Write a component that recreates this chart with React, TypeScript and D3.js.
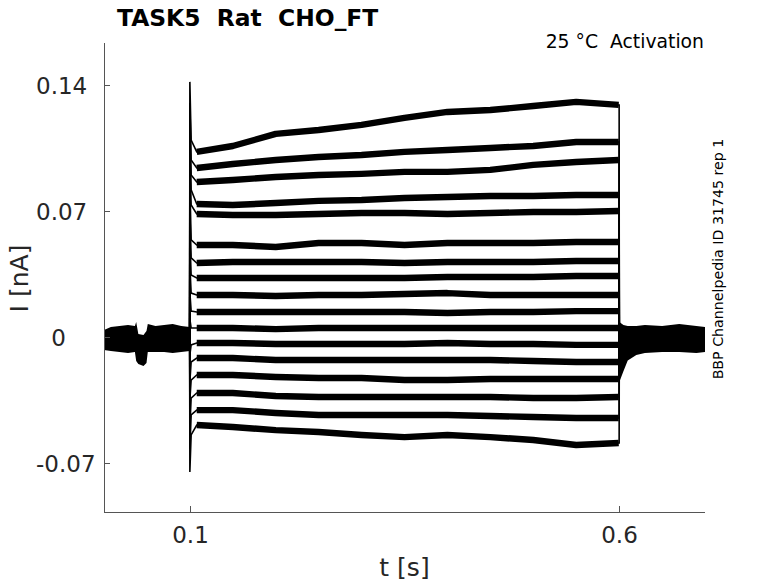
import React from "react";
import * as d3 from "d3";

// ---- data ----
const STEP_ON = 0.1;
const STEP_OFF = 0.6;

// sample times during the voltage step (s)
const stepTimes = [0.1015, 0.108, 0.15, 0.2, 0.25, 0.3, 0.35, 0.4, 0.45, 0.5, 0.55, 0.5995];

// current (nA) of the 17 sweeps at the sample times
const sweep1 = [0.1094, 0.1028, 0.1061, 0.1128, 0.115, 0.1178, 0.1217, 0.125, 0.1261, 0.1283, 0.1306, 0.1289];
const sweep2 = [0.0983, 0.0939, 0.0961, 0.0983, 0.1, 0.1011, 0.1028, 0.1039, 0.105, 0.1061, 0.1083, 0.1083];
const sweep3 = [0.09, 0.0861, 0.0872, 0.0889, 0.09, 0.0906, 0.0917, 0.0917, 0.0928, 0.0956, 0.0972, 0.0983];
const sweep4 = [0.0817, 0.0739, 0.0733, 0.0744, 0.0756, 0.0761, 0.0772, 0.0778, 0.0783, 0.0783, 0.0789, 0.0789];
const sweep5 = [0.0733, 0.0683, 0.0678, 0.0678, 0.0683, 0.0689, 0.0689, 0.0683, 0.0689, 0.0694, 0.0694, 0.07];
const sweep6 = [0.0539, 0.0511, 0.0511, 0.05, 0.0522, 0.0522, 0.0511, 0.0522, 0.0522, 0.0522, 0.0528, 0.0528];
const sweep7 = [0.0439, 0.0411, 0.0417, 0.0417, 0.0417, 0.0417, 0.0411, 0.0417, 0.0417, 0.0417, 0.0422, 0.0422];
const sweep8 = [0.0344, 0.0328, 0.0328, 0.0328, 0.0328, 0.0328, 0.0328, 0.0333, 0.0333, 0.0333, 0.0339, 0.0339];
const sweep9 = [0.0244, 0.0233, 0.0233, 0.0228, 0.0233, 0.0233, 0.0239, 0.0244, 0.0233, 0.0233, 0.0233, 0.0233];
const sweep10 = [0.0144, 0.0139, 0.0139, 0.0139, 0.0139, 0.0139, 0.0139, 0.0133, 0.0139, 0.0139, 0.0144, 0.0144];
const sweep11 = [0.005, 0.005, 0.005, 0.0044, 0.005, 0.005, 0.005, 0.005, 0.005, 0.005, 0.005, 0.005];
const sweep12 = [-0.0044, -0.0033, -0.0033, -0.0039, -0.0039, -0.0039, -0.0039, -0.0033, -0.0039, -0.0039, -0.0044, -0.0044];
const sweep13 = [-0.0139, -0.0117, -0.0117, -0.0128, -0.0128, -0.0128, -0.0128, -0.0128, -0.0128, -0.0133, -0.0139, -0.0139];
const sweep14 = [-0.0239, -0.0211, -0.0211, -0.0222, -0.0228, -0.0228, -0.0239, -0.0239, -0.0233, -0.0233, -0.0233, -0.0233];
const sweep15 = [-0.0339, -0.0311, -0.0311, -0.0328, -0.0333, -0.0333, -0.0333, -0.0333, -0.0333, -0.0339, -0.0339, -0.0333];
const sweep16 = [-0.0433, -0.0406, -0.0406, -0.0422, -0.0433, -0.0433, -0.0433, -0.0433, -0.0439, -0.0444, -0.045, -0.045];
const sweep17 = [-0.0544, -0.0489, -0.05, -0.0517, -0.0528, -0.0544, -0.0556, -0.0544, -0.0556, -0.0572, -0.06, -0.0589];

const sweeps = [
  sweep1, sweep2, sweep3, sweep4, sweep5, sweep6, sweep7, sweep8, sweep9,
  sweep10, sweep11, sweep12, sweep13, sweep14, sweep15, sweep16, sweep17,
];

// capacitive transient peak at step onset (nA)
const onsetPeaks = [0.1417, 0.13, 0.12, 0.11, 0.1, 0.085, 0.07, 0.055, 0.04, 0.025, 0.01, -0.01, -0.025, -0.035, -0.05, -0.062, -0.075];
// current right after step end (nA)
const tailStarts = [-0.022, -0.02, -0.018, -0.016, -0.014, -0.012, -0.01, -0.008, -0.006, -0.004, -0.002, 0, 0.002, 0.003, 0.004, 0.005, 0.006];
const TAIL_END_TIME = 0.612;
const BASELINE_LEVEL = -0.0012;

// holding-current noise band before / after the step: [t, upper, lower] (nA)
const baselinePre: [number, number, number][] = [
  [0.0, 0.0039, -0.0072],
  [0.008, 0.0056, -0.0078],
  [0.018, 0.0061, -0.0083],
  [0.028, 0.0067, -0.0089],
  [0.036, 0.0061, -0.0083],
  [0.0375, 0.0083, -0.0133],
  [0.04, 0.0017, -0.015],
  [0.046, 0.0011, -0.0161],
  [0.0495, 0.0033, -0.0144],
  [0.051, 0.0072, -0.0083],
  [0.06, 0.0061, -0.0083],
  [0.07, 0.0067, -0.0083],
  [0.08, 0.0072, -0.0089],
  [0.09, 0.0061, -0.0083],
  [0.0998, 0.0056, -0.0078],
];
const baselinePost: [number, number, number][] = [
  [0.6002, 0.0083, -0.025],
  [0.605, 0.0067, -0.019],
  [0.61, 0.0061, -0.013],
  [0.62, 0.0061, -0.01],
  [0.63, 0.0067, -0.0089],
  [0.65, 0.0061, -0.0083],
  [0.67, 0.0072, -0.0083],
  [0.69, 0.0061, -0.0089],
  [0.7, 0.0056, -0.0083],
];

const xTicks = [0.1, 0.6];
const xTickLabels = ["0.1", "0.6"];
const yTicks = [-0.07, 0, 0.07, 0.14];
const yTickLabels = ["-0.07", "0", "0.07", "0.14"];

const TITLE = "TASK5  Rat  CHO_FT";
const SUBTITLE = "25 °C  Activation";
const SIDE_NOTE = "BBP Channelpedia ID 31745 rep 1";
const X_LABEL = "t [s]";
const Y_LABEL = "I [nA]";

// ---- layout ----
const W = 778;
const H = 583;
const PLOT = { left: 104, right: 705, top: 43, bottom: 512 };
const FONT = "'DejaVu Sans', sans-serif";
const AXIS_COLOR = "#555555";
const TEXT_COLOR = "#262626";

export default function App() {
  const x = d3.scaleLinear().domain([0, 0.7]).range([PLOT.left, PLOT.right]);
  const y = d3.scaleLinear().domain([-0.0972, 0.1633]).range([PLOT.bottom, PLOT.top]);

  const line = d3
    .line<[number, number]>()
    .x((d) => x(d[0]))
    .y((d) => y(d[1]));

  const band = d3
    .area<[number, number, number]>()
    .x((d) => x(d[0]))
    .y0((d) => y(d[2]))
    .y1((d) => y(d[1]));

  const thinPaths = sweeps.map((vals, i) => {
    const pts: [number, number][] = [
      [STEP_ON - 0.0002, BASELINE_LEVEL],
      [STEP_ON, onsetPeaks[i]],
      ...stepTimes.map((t, k) => [t, vals[k]] as [number, number]),
      [STEP_OFF, vals[vals.length - 1]],
      [STEP_OFF + 0.0002, tailStarts[i]],
      [TAIL_END_TIME, BASELINE_LEVEL],
    ];
    return line(pts) as string;
  });

  const thickPaths = sweeps.map((vals) =>
    line(stepTimes.slice(1).map((t, k) => [t, vals[k + 1]] as [number, number])) as string
  );

  const midX = (PLOT.left + PLOT.right) / 2;
  const midY = (PLOT.top + PLOT.bottom) / 2;

  return (
    <div style={{ position: "absolute", left: 0, top: 0, width: W, height: H, background: "#fff" }}>
      <svg width={W} height={H} viewBox={`0 0 ${W} ${H}`} style={{ display: "block" }}>
        <rect x={0} y={0} width={W} height={H} fill="#fff" />

        {/* baseline noise bands */}
        <path d={band(baselinePre) as string} fill="#000" />
        <path d={band(baselinePost) as string} fill="#000" />

        {/* sweeps */}
        {thickPaths.map((d, i) => (
          <path key={"k" + i} d={d} fill="none" stroke="#000" strokeWidth={6.4} strokeLinejoin="round" />
        ))}
        {thinPaths.map((d, i) => (
          <path key={"t" + i} d={d} fill="none" stroke="#000" strokeWidth={1.6} strokeLinejoin="miter" />
        ))}

        {/* axes */}
        <line x1={PLOT.left + 0.5} x2={PLOT.left + 0.5} y1={PLOT.top} y2={PLOT.bottom + 0.5} stroke={AXIS_COLOR} strokeWidth={1} />
        <line x1={PLOT.left} x2={PLOT.right} y1={PLOT.bottom + 0.5} y2={PLOT.bottom + 0.5} stroke={AXIS_COLOR} strokeWidth={1} />
        {yTicks.map((v, i) => {
          const yy = Math.round(y(v)) + 0.5;
          const lab = yTickLabels[i];
          return (
            <g key={"yt" + i}>
              <line x1={PLOT.left} x2={PLOT.left + 6} y1={yy} y2={yy} stroke={AXIS_COLOR} strokeWidth={1} />
              <text
                x={lab === "0" ? 58.5 : 36}
                y={yy + 8}
                textAnchor={lab === "0" ? "middle" : "start"}
                fontFamily={FONT}
                fontSize={23}
                fill={TEXT_COLOR}
              >
                {lab}
              </text>
            </g>
          );
        })}
        {xTicks.map((v, i) => {
          const xx = Math.round(x(v)) + 0.5;
          return (
            <g key={"xt" + i}>
              <line x1={xx} x2={xx} y1={PLOT.bottom} y2={PLOT.bottom - 6} stroke={AXIS_COLOR} strokeWidth={1} />
              <text x={xx} y={543} textAnchor="middle" fontFamily={FONT} fontSize={23} fill={TEXT_COLOR}>
                {xTickLabels[i]}
              </text>
            </g>
          );
        })}

        {/* labels */}
        <text x={midX} y={576} textAnchor="middle" fontFamily={FONT} fontSize={25} fill={TEXT_COLOR}>
          {X_LABEL}
        </text>
        <text
          transform={`translate(28,${midY + 1}) rotate(-90)`}
          textAnchor="middle"
          fontFamily={FONT}
          fontSize={25}
          fill={TEXT_COLOR}
        >
          {Y_LABEL}
        </text>
        <text x={117} y={26} fontFamily={FONT} fontWeight="bold" fontSize={23.4} fill="#000" style={{ whiteSpace: "pre" }}>
          {TITLE}
        </text>
        <text x={704} y={48} textAnchor="end" fontFamily={FONT} fontSize={18.8} fill="#000" style={{ whiteSpace: "pre" }}>
          {SUBTITLE}
        </text>
        <text
          transform="translate(723,259) rotate(-90)"
          textAnchor="middle"
          fontFamily={FONT}
          fontSize={14.2}
          fill="#000"
        >
          {SIDE_NOTE}
        </text>
      </svg>
    </div>
  );
}
